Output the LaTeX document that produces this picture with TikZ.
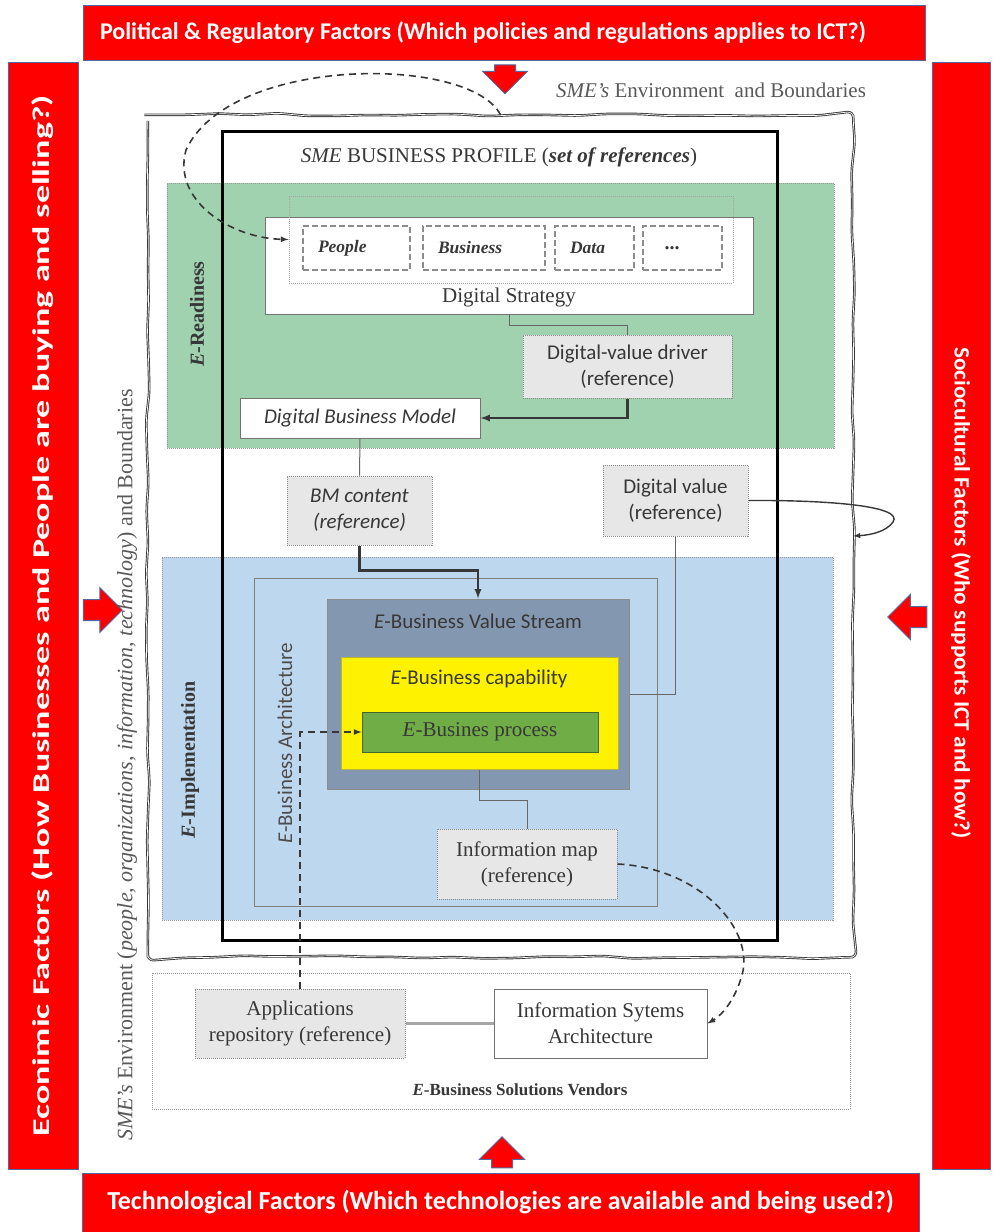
\documentclass[tikz,border=0pt]{standalone}
\usepackage{fontspec}
\usepackage{graphicx}
\setmainfont{Liberation Serif}
\setsansfont{Carlito}
\usetikzlibrary{calc,shapes.arrows,decorations.pathmorphing}
\definecolor{factorred}{RGB}{255,0,0}
\definecolor{factorline}{RGB}{80,105,160}
\definecolor{readygreen}{RGB}{160,210,175}
\definecolor{implblue}{RGB}{189,215,238}
\definecolor{streamgray}{RGB}{132,151,176}
\definecolor{procgreen}{RGB}{112,173,71}
\definecolor{refgray}{RGB}{231,231,231}
\definecolor{inkgray}{RGB}{55,55,55}
\newcommand{\E}{\textit{E}}

\begin{document}
\begin{tikzpicture}[
 x=1pt,
 y=-1pt,
 >={latex},
 factor/.style={
  draw=factorline,
  line width=1pt,
  fill=factorred,
  text=white,
  inner sep=0pt,
  font=\sffamily\bfseries\fontsize{24}{28}\selectfont,
 },
 push/.style={
  single arrow,
  draw=factorline,
  line width=1pt,
  fill=factorred,
  inner xsep=0pt,
  inner ysep=10pt,
  single arrow head extend=12pt,
 },
 region/.style={
  draw=black!40,
  densely dotted,
  line width=1pt,
  inner sep=0pt,
 },
 box/.style={
  draw=black!55,
  line width=1pt,
  inner sep=0pt,
  align=center,
  text=inkgray,
 },
 refbox/.style={
  box,
  fill=refgray,
  draw=black!45,
  densely dotted,
 },
 item/.style={
  box,
  dashed,
  dash pattern=on 6pt off 3pt,
  line width=1.3pt,
  draw=black!45,
  align=left,
  inner xsep=15pt,
  minimum height=44pt,
  font=\bfseries\itshape\fontsize{17.5}{20}\selectfont,
 },
 serif/.style={font=\fontsize{21}{26}\selectfont},
 sans/.style={font=\sffamily\fontsize{21}{26}\selectfont},
 link/.style={draw=black!60, line width=1pt},
 flow/.style={draw=inkgray, line width=2.2pt},
 jump/.style={draw=inkgray, line width=1.6pt, dash pattern=on 7pt off 5pt},
 sketch/.style={
  draw=inkgray,
  line width=0.9pt,
  double=white,
  double distance=0.7pt,
  decorate,
  decoration={random steps, segment length=30pt, amplitude=1.7pt},
  rounded corners=6pt,
 },
]

\useasboundingbox (0,0) rectangle (997,1232);

\node at (504,32.5) [factor, minimum width=842pt, minimum height=55pt] (political) {Political \& Regulatory Factors (Which policies and regulations applies to ICT?)\hspace*{42pt}};
\node at (43,616) [factor, rotate=90, minimum width=1107pt, minimum height=70pt] (economic) {\scalebox{1.5}[1]{Econimic Factors (How Businesses and People are buying and selling?)}};
\node at (961,616) [factor, rotate=-90, minimum width=1107pt, minimum height=58pt, font=\sffamily\bfseries\fontsize{22}{26}\selectfont] (social) {\scalebox{1.06}[1]{Sociocultural Factors (Who supports ICT and how?)}\hspace*{46pt}};
\node at (500.5,1202.5) [factor, minimum width=837pt, minimum height=59pt, font=\sffamily\bfseries\fontsize{26}{30}\selectfont] (techno) {Technological Factors (Which technologies are available and being used?)};

\node at (505,74) [push, rotate=-90, minimum height=29pt] (politicalpush) {};
\node at (97.5,610) [push, minimum height=39pt] (economicpush) {};
\node at (912.5,617) [push, rotate=180, minimum height=39pt] (socialpush) {};
\node at (502,1157.5) [push, rotate=90, minimum height=31pt] (technopush) {};

\node at (711,90) [serif, text=black!65] (envtitle) {\textit{SME's} Environment\ \ and Boundaries};
\node at (127,765) [serif, rotate=90, text=black!65, font=\fontsize{22}{26}\selectfont] (envside) {\textit{SME's} Environment (\textit{people, organizations, information, technology}) and Boundaries};

\node at (500.5,536) [minimum width=705pt, minimum height=842pt, inner sep=0pt] (smeenv) {};
\draw[sketch] (smeenv.north west) rectangle (smeenv.south east);

\node at (500.5,315.5) [region, fill=readygreen, minimum width=667pt, minimum height=265pt] (readiness) {};
\node at (497.5,738.5) [region, fill=implblue, minimum width=671pt, minimum height=363pt] (implement) {};
\node at (501,1041) [region, minimum width=698pt, minimum height=136pt] (vendors) {};

\node at (499.5,535.5) [draw=black, line width=3pt, minimum width=555pt, minimum height=809pt] (profile) {};
\node at (499,157) [serif, text=inkgray] (profiletitle) {\textit{SME} BUSINESS PROFILE (\textbf{\textit{set of references}})};

\node at (197,314) [serif, rotate=90, text=inkgray, font=\bfseries\fontsize{20}{24}\selectfont] (readinesslabel) {\E-Readiness};
\node at (190,760) [serif, rotate=90, text=inkgray, font=\bfseries\fontsize{20}{24}\selectfont] (implementlabel) {\E-Implementation};

\node at (509,265.5) [box, fill=white, minimum width=488pt, minimum height=97pt] (strategy) {};
\node at (509,297) [serif, text=inkgray] (strategylabel) {Digital Strategy};
\node at (511,239.5) [region, draw=black!35, minimum width=444pt, minimum height=87pt] (strategyset) {};
\node at (356.5,248) [item, text width=77pt] (people) {People};
\node at (484,248) [item, text width=92pt] (business) {Business};
\node at (594.5,248) [item, text width=49pt] (data) {Data};
\node at (682.5,248) [item, text width=49pt, font=\bfseries\fontsize{20}{24}\selectfont] (more) {\ ...};

\node at (627.5,366.5) [refbox, sans, minimum width=209pt, minimum height=63pt] (driver) {Digital-value driver\\(reference)};
\node at (360,418) [box, fill=white, font=\sffamily\itshape\fontsize{21}{26}\selectfont, minimum width=240pt, minimum height=40pt] (bizmodel) {Digital Business Model};
\node at (359.5,510.5) [refbox, font=\sffamily\itshape\fontsize{21}{26}\selectfont, minimum width=145pt, minimum height=69pt] (bmcontent) {BM content\\(reference)};
\node at (675.5,500.5) [refbox, sans, minimum width=145pt, minimum height=71pt] (value) {Digital value\\(reference)};

\node at (455.5,742) [box, fill=implblue, draw=black!50, minimum width=403pt, minimum height=328pt] (arch) {};
\node at (285,743) [sans, rotate=90, text=black!70] (archlabel) {\E-Business Architecture};
\node at (478,694) [box, fill=streamgray, draw=black!45, minimum width=302pt, minimum height=190pt] (stream) {};
\node at (478,621) [sans, text=inkgray] (streamlabel) {\E-Business Value Stream};
\node at (479.5,713) [box, fill=yellow, draw=yellow!70!black, minimum width=277pt, minimum height=112pt] (capability) {};
\node at (479,679) [sans, text=inkgray] (capabilitylabel) {\E-Business capability};
\node at (480,732) [box, fill=procgreen, draw=procgreen!60!black, serif, minimum width=236pt, minimum height=40pt] (process) {\E-Busines process};
\node at (527,864) [refbox, serif, minimum width=180pt, minimum height=70pt] (infomap) {Information map\\(reference)};

\node at (300,1023.5) [refbox, serif, minimum width=210pt, minimum height=69pt] (apprepo) {Applications\\repository (reference)};
\node at (600.5,1023.5) [box, fill=white, serif, minimum width=213pt, minimum height=69pt] (isarch) {Information Sytems\\Architecture};
\node at (520,1090) [serif, text=inkgray, font=\bfseries\fontsize{17}{21}\selectfont] (vendorslabel) {\E-Business Solutions Vendors};

\draw[link] (strategy.south) -- ++(0,11) -| (driver.north);
\draw[flow,->] (driver.south) |- (bizmodel.east);
\draw[link] (bizmodel.south) -- (bmcontent.north);
\draw[flow,->] (bmcontent.south) -- ++(0,25) -| (stream.north);
\draw[link] (value.south) |- (stream.east);
\draw[link] (capability.south) -- ++(0,31) -| (infomap.north);
\draw[link, line width=2.5pt, draw=black!35] (apprepo.east) -- (isarch.west);

\draw[jump,->] (apprepo.north) |- (process.west);
\draw[jump,->] (infomap.east) .. controls (700,868) and (755,930) .. (742,975) .. controls (735,1000) and (722,1015) .. (isarch.east);
\draw[jump,->] (smeenv.north) .. controls (470,55) and (230,55) .. (186,150) .. controls (172,200) and (230,238) .. (strategyset.west);
\draw[draw=inkgray, line width=1.4pt, ->] (value.east) .. controls (820,500) and (905,505) .. (893,522) .. controls (886,532) and (870,535) .. (smeenv.east);

\end{tikzpicture}
\end{document}
